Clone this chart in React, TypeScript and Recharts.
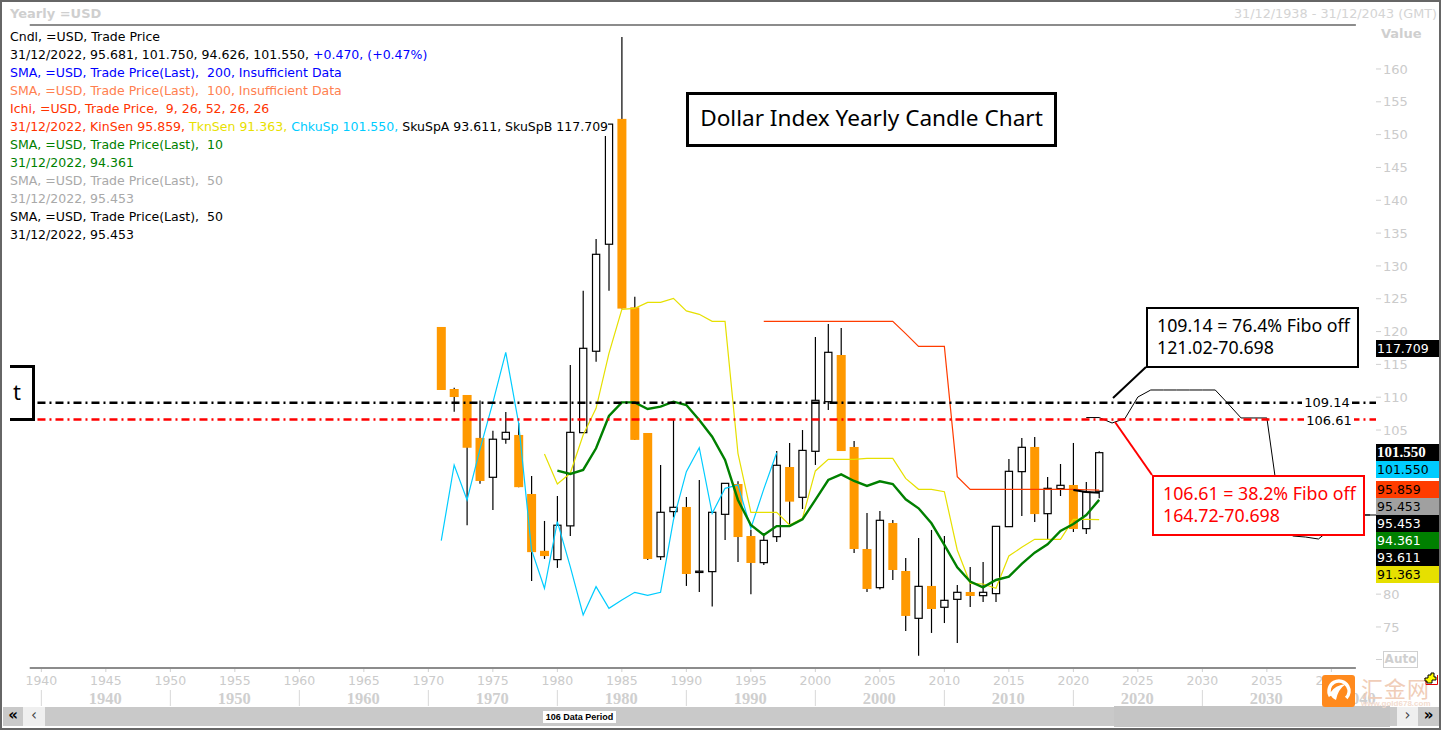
import { ComposedChart, Bar, Line, XAxis, YAxis, ReferenceLine } from 'recharts';

const W = 1442;
const H = 730;
const UI_FONT = '"DejaVu Sans", sans-serif';
const AXIS_GREY = '#cbcbcb';

// yearly candles, first one is 1971
const candleStart = 1971;
const opens = [
  120.7, 111.25, 110.34, 103.8, 97.8, 103.6, 104.25, 95.26, 86.6, 85.26,
  90.4, 104.6, 117, 133.3, 152.4, 123.7, 104.55, 85.7, 92.57, 93.28,
  83.3, 83.43, 92.16, 96.78, 88.86, 84.8, 88.76, 99.37, 94.75, 101.76,
  109.32, 116.43, 102.42, 86.88, 80.99, 90.84, 83.53, 76.32, 81.25, 78,
  79.21, 80.33, 79.77, 80.08, 90.28, 98.66, 102.42, 92.26, 96.07, 96.63,
  89.98, 95.681,
];
const highs = [
  120.7, 111.46, 110.34, 109.5, 104.9, 107.75, 106.07, 98, 91.15, 94.95,
  114.9, 126.2, 134.1, 151.6, 164.87, 125.3, 104.55, 99.68, 106.7, 94.8,
  97.4, 92.47, 96.88, 97.2, 89.8, 89, 101.8, 103.03, 105, 119.17,
  121.15, 120.54, 103.33, 92.36, 92.67, 91.3, 85.5, 88.56, 89.78, 88.86,
  81.4, 84.14, 84.9, 90.33, 100.6, 103.79, 103.94, 97.85, 99.83, 103.03,
  97.09, 101.75,
];
const lows = [
  111.1, 107.8, 90.5, 96.8, 92.8, 102.9, 96.3, 82, 85.36, 84,
  88.86, 104.6, 115.4, 126.2, 123.5, 103.5, 85.2, 85.2, 91.7, 81.25,
  80.33, 78.1, 88.25, 84.9, 80, 84.45, 87.95, 90.54, 92.97, 99.68,
  108.05, 101.8, 86.27, 80.33, 80.69, 82.16, 74.39, 70.63, 74.09, 75.6,
  72.56, 78.05, 78.8, 78.8, 90.28, 91.9, 91, 88.4, 94.95, 89.47,
  89.17, 94.626,
];
const closes = [
  111.1, 110.03, 102.3, 97.24, 103.6, 104.65, 96.3, 86.4, 85.8, 90.5,
  104.65, 117.45, 131.77, 151.6, 123.5, 103.5, 85.36, 92.47, 93.23, 83.07,
  83.5, 92.47, 96.88, 88.7, 84.75, 88.2, 99.63, 94.09, 101.9, 109.53,
  116.84, 101.8, 86.88, 80.79, 91.25, 83.68, 76.68, 81.19, 77.74, 79.06,
  80.28, 79.72, 80.28, 90.33, 98.71, 102.37, 92.2, 96.12, 96.58, 89.93,
  95.56, 101.55,
];

// indicators, each with the year it starts
const sma10Start = 1980;
const sma10 = [
  98.81, 98.31, 98.92, 102.22, 107.14, 109.22, 109.22, 108.2, 108.56, 109.32,
  108.81, 106.53, 103.99, 100.44, 94.35, 90.54, 89, 90.37, 90.38, 91.4,
  94.35, 97.39, 98.25, 97.24, 96.48, 97.19, 96.78, 94.45, 93.08, 90.79,
  87.49, 84.09, 81.91, 81.04, 82.16, 82.67, 84.6, 86.32, 87.59, 89.62,
  90.69, 92.06, 94.361,
];
const chikouStart = 1971;
const chikou = [
  88.15, 99.68, 94.35, 102.06, 109.17, 116.84, 106.02, 86.73, 80.89, 91.04,
  84.19, 76.83, 81.14, 77.84, 79.11, 80.28, 79.82, 80.28, 91.3, 98.66,
  102.3, 92.31, 96.12, 96.63, 90.03, 96, 101.55,
];
const tenkanStart = 1979;
const tenkan = [
  101.35, 96.79, 98.41, 104.25, 108.31, 116.68, 123.39, 123.54, 124.45, 124.45,
  125.06, 123.14, 122.63, 121.56, 121.56, 101.45, 92.47, 92.47, 92.47, 90.54,
  91.55, 98.77, 100.54, 100.54, 100.54, 100.69, 100.69, 100.69, 97.64, 95.97,
  95.97, 95.61, 86.73, 81.65, 81.55, 80.89, 85.81, 87.13, 88.35, 88.35,
  88.35, 91.4, 91.4, 91.363,
];
const kijunStart = 1996;
const kijun = [
  121.56, 121.56, 121.56, 121.56, 121.56, 121.56, 121.56, 121.56, 121.56, 121.56,
  121.56, 119.68, 117.75, 117.75, 117.75, 97.9, 95.97, 95.97, 95.97, 95.97,
  95.97, 95.97, 95.97, 95.97, 95.97, 95.9, 95.859,
];
const spanAStart = 2021;
const spanA = [
  106.9, 106.9, 106.07, 106.75, 110.03, 111.1, 111.1, 111.1, 111.1, 111.1,
  111.1, 109, 106.84, 106.84, 106.84, 92.8, 88.86, 88.7, 88.4, 90,
  92, 92.06, 92.06,
];
const sma50Start = 2020;
const sma50 = [95.87, 95.56, 95.453];

const fiboHigh = 109.14;
const fiboLow = 106.61;

// 85-100 sit behind the value flags in the reference
const priceTicks = [75, 80, 105, 110, 115, 120, 125, 130, 135, 140, 145, 150, 155, 160];
const yearTicks = [1940, 1945, 1950, 1955, 1960, 1965, 1970, 1975, 1980, 1985, 1990, 1995, 2000, 2005, 2010, 2015, 2020, 2025, 2030, 2035, 2040];
const decadeTicks = [1940, 1950, 1960, 1970, 1980, 1990, 2000, 2010, 2020, 2030, 2040];

const xDomain = [1937.57, 2043.46];
const yDomain = [68.75, 166.7];

const rows = Array.from({ length: 2043 - 1971 + 1 }, (_, i) => {
  const year = 1971 + i;
  const at = (start: number, list: number[]) => list[year - start] ?? null;
  const c = year - candleStart;
  return {
    year,
    open: opens[c],
    close: closes[c],
    range: c < opens.length ? [lows[c], highs[c]] : null,
    high: highs[c],
    low: lows[c],
    sma10: at(sma10Start, sma10),
    sma50: at(sma50Start, sma50),
    chikou: at(chikouStart, chikou),
    tenkan: at(tenkanStart, tenkan),
    kijun: at(kijunStart, kijun),
    spanA: at(spanAStart, spanA),
  };
});

// legend block, top left
const BLACK = '#000000';
const BLUE = '#0000ff';
const CORAL = '#ff7f50';
const RED = '#ff3300';
const YELLOW = '#e8e000';
const CYAN = '#00ccff';
const GREEN = '#008000';
const GREY = '#a9a9a9';
const legendLines: [string, string][][] = [
  [['Cndl, =USD, Trade Price', BLACK]],
  [['31/12/2022, 95.681, 101.750, 94.626, 101.550, ', BLACK], ['+0.470, (+0.47%)', BLUE]],
  [['SMA, =USD, Trade Price(Last),  200, Insufficient Data', BLUE]],
  [['SMA, =USD, Trade Price(Last),  100, Insufficient Data', CORAL]],
  [['Ichi, =USD, Trade Price,  9, 26, 52, 26, 26', RED]],
  [['31/12/2022, KinSen 95.859, ', RED], ['TknSen 91.363, ', YELLOW], ['ChkuSp 101.550, ', CYAN], ['SkuSpA 93.611, SkuSpB 117.709', BLACK]],
  [['SMA, =USD, Trade Price(Last),  10', GREEN]],
  [['31/12/2022, 94.361', GREEN]],
  [['SMA, =USD, Trade Price(Last),  50', GREY]],
  [['31/12/2022, 95.453', GREY]],
  [['SMA, =USD, Trade Price(Last),  50', BLACK]],
  [['31/12/2022, 95.453', BLACK]],
];

// value flags on the right edge
const flags = [
  { text: '117.709', top: 340, bg: '#000000', fg: '#ffffff' },
  { text: '101.550', top: 444, bg: '#000000', fg: '#ffffff', bold: true },
  { text: '101.550', top: 461, bg: '#00ccff', fg: '#000000' },
  { text: '95.859', top: 481, bg: '#ff3c00', fg: '#000000' },
  { text: '95.453', top: 498, bg: '#a0a0a0', fg: '#000000' },
  { text: '95.453', top: 515, bg: '#000000', fg: '#ffffff' },
  { text: '94.361', top: 532, bg: '#008000', fg: '#ffffff' },
  { text: '93.611', top: 549, bg: '#000000', fg: '#ffffff' },
  { text: '91.363', top: 566, bg: '#e6e000', fg: '#000000' },
];

function Candle(props: any) {
  const { x, y, width, height, payload } = props;
  if (!payload || !payload.range) return null;
  const h = Math.abs(height);
  const span = payload.high - payload.low || 1;
  const toY = (v: number) => y + ((payload.high - v) / span) * h;
  const cx = x + width / 2;
  const down = payload.close < payload.open;
  const top = toY(Math.max(payload.open, payload.close));
  const bottom = toY(Math.min(payload.open, payload.close));
  return (
    <g>
      <line x1={cx} x2={cx} y1={y} y2={y + h} stroke="#000" strokeWidth={1.2} />
      {down ? (
        <rect x={cx - 4.5} y={top} width={9} height={Math.max(bottom - top, 1)} fill="#ff9900" />
      ) : (
        <rect x={cx - 3.6} y={top} width={7.2} height={Math.max(bottom - top, 1)} fill="#fff" stroke="#000" strokeWidth={1.2} />
      )}
    </g>
  );
}

// both tiers draw at fixed rows, the chart stacks two bottom axes its own way
function YearTick(props: any) {
  const { x, payload } = props;
  return (
    <g>
      <line x1={x} x2={x} y1={669} y2={672} stroke="#d0d0d0" />
      <text x={x} y={685} textAnchor="middle" fill={AXIS_GREY} fontFamily={UI_FONT} fontSize={12.5}>
        {payload.value}
      </text>
    </g>
  );
}

function DecadeTick(props: any) {
  const { x, payload } = props;
  const labelX = payload.value === 2040 ? x + 28 : x + 64;
  return (
    <g>
      <line x1={x} x2={x} y1={690} y2={706} stroke="#d8d8d8" />
      <text x={labelX} y={704} textAnchor="middle" fill="#cfcfcf" fontFamily='"Liberation Serif", serif' fontWeight="bold" fontSize={16.5}>
        {payload.value}
      </text>
    </g>
  );
}

const abs = (left: number, top: number, width: number, height: number) => ({
  position: 'absolute' as const,
  left,
  top,
  width,
  height,
  boxSizing: 'border-box' as const,
});

function NoteBox({ left, top, width, height, color, lines }: any) {
  return (
    <div style={{ ...abs(left, top, width, height), border: `2px solid ${color}`, background: '#fff', color, fontFamily: '"Noto Sans", sans-serif', fontSize: 17.8, lineHeight: '22px', padding: '5px 0 0 9px', whiteSpace: 'nowrap' }}>
      {lines.map((l: string) => <div key={l}>{l}</div>)}
    </div>
  );
}

export default function App() {
  return (
    <div style={{ position: 'absolute', left: 0, top: 0, width: W, height: H, background: '#fff', overflow: 'hidden', fontFamily: UI_FONT }}>
      <div style={{ position: 'absolute', left: 0, top: 0 }}>
        <ComposedChart width={W} height={708} data={rows} margin={{ top: 25, right: 0, bottom: 0, left: 10 }}>
          <XAxis
            xAxisId="years"
            dataKey="year"
            type="number"
            domain={xDomain}
            allowDataOverflow
            ticks={yearTicks}
            interval={0}
            height={18}
            axisLine={false}
            tickLine={false}
            tick={<YearTick />}
          />
          <XAxis
            xAxisId="decades"
            dataKey="year"
            type="number"
            domain={xDomain}
            allowDataOverflow
            ticks={decadeTicks}
            interval={0}
            height={22}
            axisLine={false}
            tickLine={false}
            tick={<DecadeTick />}
          />
          <YAxis
            yAxisId="price"
            orientation="right"
            type="number"
            domain={yDomain}
            allowDataOverflow
            ticks={priceTicks}
            interval={0}
            width={66}
            axisLine={false}
            tickLine={{ stroke: '#d0d0d0' }}
            tickSize={5}
            tickMargin={2}
            tick={{ fill: AXIS_GREY, fontSize: 13, fontFamily: UI_FONT }}
          />
          <ReferenceLine xAxisId="years" yAxisId="price" segment={[{ x: 1939.1, y: yDomain[1] }, { x: 2041.9, y: yDomain[1] }]} stroke="#666" strokeWidth={1.5} />
          <ReferenceLine xAxisId="years" yAxisId="price" segment={[{ x: 1939.1, y: yDomain[0] }, { x: 2041.9, y: yDomain[0] }]} stroke="#666" strokeWidth={1.5} />
          <Bar xAxisId="years" yAxisId="price" dataKey="range" barSize={9} shape={<Candle />} isAnimationActive={false} />
          <Line xAxisId="years" yAxisId="price" dataKey="chikou" stroke="#00ccff" strokeWidth={1.2} dot={false} isAnimationActive={false} />
          <Line xAxisId="years" yAxisId="price" dataKey="tenkan" stroke="#e6e000" strokeWidth={1.2} dot={false} isAnimationActive={false} />
          <Line xAxisId="years" yAxisId="price" dataKey="kijun" stroke="#ff3c00" strokeWidth={1.2} dot={false} isAnimationActive={false} />
          <Line xAxisId="years" yAxisId="price" dataKey="spanA" stroke="#000" strokeWidth={1} dot={false} isAnimationActive={false} />
          <Line xAxisId="years" yAxisId="price" dataKey="sma50" stroke="#000" strokeWidth={2} dot={false} isAnimationActive={false} />
          <Line xAxisId="years" yAxisId="price" dataKey="sma10" stroke="#008000" strokeWidth={2.4} dot={false} isAnimationActive={false} />
          <ReferenceLine xAxisId="years" yAxisId="price" segment={[{ x: 1939.7, y: fiboHigh }, { x: xDomain[1], y: fiboHigh }]} stroke="#000" strokeWidth={2.5} strokeDasharray="8 4 2 4" />
          <ReferenceLine xAxisId="years" yAxisId="price" segment={[{ x: 1939.7, y: fiboLow }, { x: xDomain[1], y: fiboLow }]} stroke="#ff0000" strokeWidth={2.5} strokeDasharray="8 4 2 4" />
        </ComposedChart>
      </div>

      {/* window frame */}
      <div style={{ ...abs(0, 0, W - 1, H), border: '2px solid #666' }} />

      {/* header */}
      <div style={{ position: 'absolute', left: 10, top: 6, fontSize: 13, fontWeight: 700, color: '#cfcfcf' }}>Yearly =USD</div>
      <div style={{ position: 'absolute', right: 5, top: 6, fontSize: 12.8, color: '#d4d4d4' }}>31/12/1938 - 31/12/2043 (GMT)</div>
      <div style={{ position: 'absolute', left: 1381, top: 26, fontSize: 13, fontWeight: 700, color: '#cfcfcf' }}>Value</div>

      {/* legend */}
      {legendLines.map((parts, i) => (
        <div key={i} style={{ position: 'absolute', left: 10, top: 27.5 + i * 18, height: 18, lineHeight: '18px', fontSize: 12.53, whiteSpace: 'pre', background: '#fff' }}>
          {parts.map(([text, color]) => <span key={text} style={{ color }}>{text}</span>)}
        </div>
      ))}

      {/* title box */}
      <div style={{ ...abs(686, 92, 371, 55), border: '3px solid #000', background: '#fff', fontFamily: '"Noto Sans", sans-serif', fontSize: 22.6, lineHeight: '46px', textAlign: 'center', whiteSpace: 'nowrap' }}>
        Dollar Index Yearly Candle Chart
      </div>

      {/* clipped box on the left */}
      <div style={{ ...abs(10, 365, 25, 56), borderTop: '3px solid #000', borderRight: '3px solid #000', borderBottom: '3px solid #000', fontFamily: '"Noto Sans", sans-serif', fontSize: 22, lineHeight: '46px', paddingLeft: 3 }}>t</div>

      {/* leaders for the notes */}
      <svg width={W} height={H} style={{ position: 'absolute', left: 0, top: 0, pointerEvents: 'none' }}>
        <line x1={1146} y1={367} x2={1113} y2={398} stroke="#000" strokeWidth={2} />
        <line x1={1152} y1={475} x2={1115} y2={422} stroke="#ff0000" strokeWidth={2} />
        <line x1={1364} y1={515} x2={1376} y2={515} stroke="#000" strokeWidth={1} />
      </svg>
      <NoteBox left={1146} top={307} width={213} height={61} color="#000" lines={['109.14 = 76.4% Fibo off', '121.02-70.698']} />
      <NoteBox left={1152} top={475} width={213} height={61} color="#ff0000" lines={['106.61 = 38.2% Fibo off', '164.72-70.698']} />

      {/* level labels on the fibo lines */}
      <div style={{ ...abs(1302, 394, 50, 17), background: '#fff', fontSize: 13, lineHeight: '17px', textAlign: 'center' }}>109.14</div>
      <div style={{ ...abs(1304, 412, 50, 17), background: '#fff', fontSize: 13, lineHeight: '17px', textAlign: 'center' }}>106.61</div>

      {/* right edge flags */}
      {flags.map((f, i) => (
        <div key={i} style={{ ...abs(1376, f.top, 63, 17), background: f.bg, color: f.fg, fontSize: f.bold ? 15 : 12.5, lineHeight: '17px', paddingLeft: 1, fontWeight: f.bold ? 700 : 400, fontFamily: f.bold ? '"Liberation Serif", serif' : UI_FONT }}>
          {f.text}
        </div>
      ))}

      {/* Auto button */}
      <div style={{ ...abs(1383, 651, 35, 17), border: '1px solid #d0d0d0', color: '#cfcfcf', fontSize: 12, fontWeight: 700, lineHeight: '15px', textAlign: 'center' }}>Auto</div>
      <div style={{ ...abs(1376, 659, 6, 1), background: '#d0d0d0' }} />

      {/* scroll bar */}
      <div style={{ ...abs(3, 707, 1434, 19), background: '#c9c9c9' }} />
      <div style={{ ...abs(1114, 706, 276, 21), background: '#c5c5c5' }} />
      <div style={{ ...abs(23, 707, 22, 19), background: '#efefef', color: '#444', fontSize: 15, lineHeight: '17px', textAlign: 'center' }}>‹</div>
      <div style={{ ...abs(3, 707, 20, 19), background: '#c9c9c9', color: '#000', fontSize: 15, fontWeight: 700, lineHeight: '16px', textAlign: 'center' }}>«</div>
      <div style={{ ...abs(1397, 707, 21, 19), background: '#efefef', color: '#444', fontSize: 15, lineHeight: '17px', textAlign: 'center' }}>›</div>
      <div style={{ ...abs(1418, 707, 21, 19), background: '#c9c9c9', color: '#000', fontSize: 15, fontWeight: 700, lineHeight: '16px', textAlign: 'center' }}>»</div>
      <div style={{ ...abs(543, 711, 73, 12), background: '#fff', color: '#000', fontFamily: '"Liberation Sans", sans-serif', fontSize: 9, fontWeight: 700, lineHeight: '12px', textAlign: 'center', whiteSpace: 'nowrap' }}>106 Data Period</div>

      {/* site watermark */}
      <svg width={36} height={34} style={{ position: 'absolute', left: 1322, top: 675 }}>
        <rect x={0} y={0} width={33} height={32} rx={3} fill="#ff8a1e" />
        <circle cx={17} cy={16} r={10} fill="none" stroke="#fff" strokeWidth={3.5} strokeDasharray="44 20" transform="rotate(150 17 16)" />
        <path d="M8 18 Q13 10 24 9 Q16 14 14 25 Q9 23 8 18 Z" fill="#fff" />
      </svg>
      <div style={{ position: 'absolute', left: 1361, top: 673, fontFamily: '"Noto Sans CJK SC", sans-serif', fontSize: 22, lineHeight: '28px', color: '#f0cdb8', letterSpacing: 1, whiteSpace: 'nowrap' }}>汇金网</div>
      <div style={{ position: 'absolute', left: 1361, top: 699, fontFamily: '"Liberation Sans", sans-serif', fontSize: 8, lineHeight: '10px', color: '#f3dccf', fontWeight: 700, whiteSpace: 'nowrap' }}>www.gold678.com</div>

      {/* small plug icon */}
      <svg width={14} height={13} style={{ position: 'absolute', left: 1424, top: 672 }}>
        <path d="M0.5 6.5 H2 V12.5 H13.5 V3" fill="none" stroke="#e00000" />
        <path d="M1 6 H4 V3 H7 V1 H10 V5 H12 V8 H8 V11 H3 V9 H1 Z" fill="#ffff00" stroke="#000" strokeWidth={1} />
      </svg>
    </div>
  );
}
